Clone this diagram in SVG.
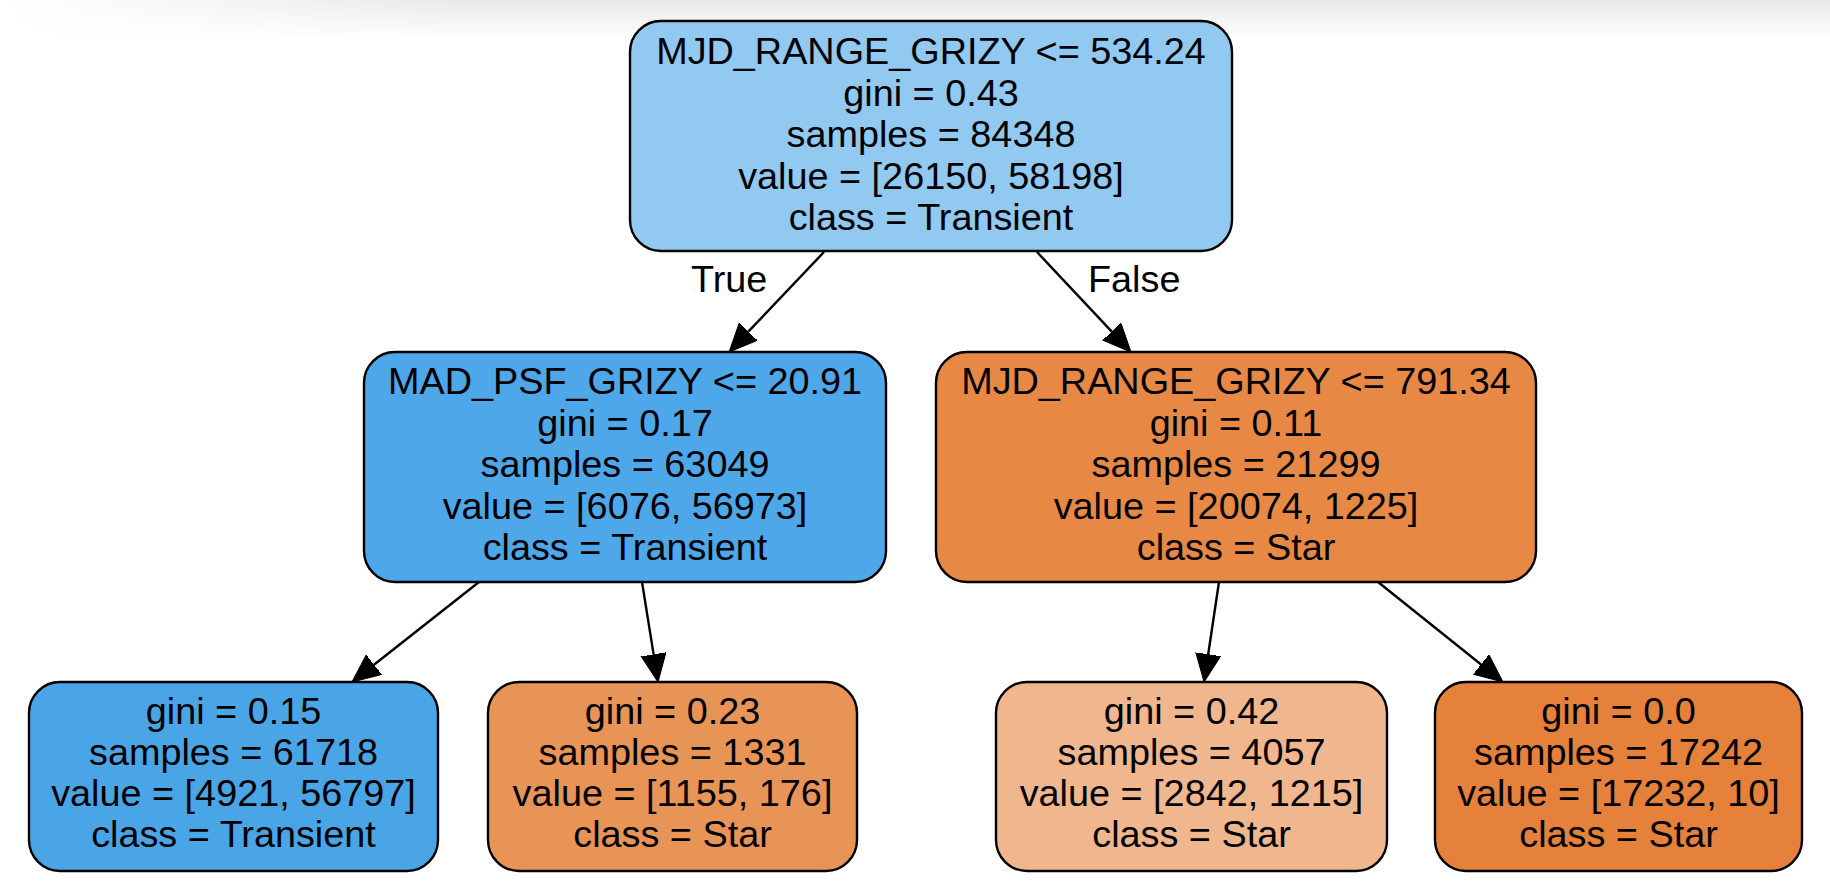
<svg xmlns="http://www.w3.org/2000/svg" width="1830" height="892" viewBox="0 0 1830 892">
  <defs>
    <style>
      .node rect { stroke: #000; stroke-width: 2.4; }
      .node text { font-family: "Liberation Sans", Arial, Helvetica, sans-serif; font-size: 37.8px; fill: #000; text-anchor: middle; }
      .edge line { stroke: #000; stroke-width: 2.4; fill: none; }
      .elabel { font-family: "Liberation Sans", Arial, Helvetica, sans-serif; font-size: 37.8px; fill: #000; }
    </style>
    <marker id="arrow" markerUnits="userSpaceOnUse" markerWidth="30" markerHeight="27" refX="0" refY="12.5" orient="auto" viewBox="0 0 30 27">
      <path d="M0,0 L28,12.5 L0,25 Z" fill="#000" stroke="#000" stroke-width="1"/>
    </marker>
    <linearGradient id="shadeV" x1="0" y1="0" x2="0" y2="1">
      <stop offset="0" stop-color="#e9e9e9"/>
      <stop offset="1" stop-color="#ffffff"/>
    </linearGradient>
    <linearGradient id="fadeH" x1="0" y1="0" x2="1" y2="0">
      <stop offset="0" stop-color="#000"/>
      <stop offset="0.25" stop-color="#fff"/>
      <stop offset="1" stop-color="#fff"/>
    </linearGradient>
    <mask id="shadeMask">
      <rect x="0" y="0" width="1830" height="40" fill="url(#fadeH)"/>
    </mask>
  </defs>

  <rect x="0" y="0" width="1830" height="892" fill="#ffffff"/>
  <rect x="0" y="0" width="1830" height="40" fill="url(#shadeV)" mask="url(#shadeMask)"/>

  <g id="edges" class="edge">
    <line x1="824" y1="252" x2="748.3" y2="331.7" marker-end="url(#arrow)"/>
    <line x1="1037" y1="252" x2="1111.8" y2="331.6" marker-end="url(#arrow)"/>
    <line x1="479" y1="582" x2="374.0" y2="664.7" marker-end="url(#arrow)"/>
    <line x1="642" y1="582" x2="653.6" y2="654.4" marker-end="url(#arrow)"/>
    <line x1="1219" y1="582" x2="1208.2" y2="654.3" marker-end="url(#arrow)"/>
    <line x1="1378" y1="582" x2="1481.1" y2="664.5" marker-end="url(#arrow)"/>
    <text class="elabel" x="691" y="292">True</text>
    <text class="elabel" x="1088" y="292">False</text>
  </g>

  <g id="node0" class="node">
    <rect x="630" y="21" width="602" height="230" rx="31" ry="31" fill="#92c9f1"/>
    <text x="931" y="64">MJD_RANGE_GRIZY &lt;= 534.24</text>
    <text x="931" y="105.5">gini = 0.43</text>
    <text x="931" y="147">samples = 84348</text>
    <text x="931" y="188.5">value = [26150, 58198]</text>
    <text x="931" y="230">class = Transient</text>
  </g>

  <g id="node1" class="node">
    <rect x="364" y="352" width="522" height="230" rx="31" ry="31" fill="#4ea7e8"/>
    <text x="625" y="394">MAD_PSF_GRIZY &lt;= 20.91</text>
    <text x="625" y="435.5">gini = 0.17</text>
    <text x="625" y="477">samples = 63049</text>
    <text x="625" y="518.5">value = [6076, 56973]</text>
    <text x="625" y="560">class = Transient</text>
  </g>

  <g id="node4" class="node">
    <rect x="936" y="352" width="600" height="230" rx="31" ry="31" fill="#e78945"/>
    <text x="1236" y="394">MJD_RANGE_GRIZY &lt;= 791.34</text>
    <text x="1236" y="435.5">gini = 0.11</text>
    <text x="1236" y="477">samples = 21299</text>
    <text x="1236" y="518.5">value = [20074, 1225]</text>
    <text x="1236" y="560">class = Star</text>
  </g>

  <g id="node2" class="node">
    <rect x="29" y="682" width="409" height="189" rx="31" ry="31" fill="#4aa5e7"/>
    <text x="233.5" y="724">gini = 0.15</text>
    <text x="233.5" y="765">samples = 61718</text>
    <text x="233.5" y="806">value = [4921, 56797]</text>
    <text x="233.5" y="847">class = Transient</text>
  </g>

  <g id="node3" class="node">
    <rect x="488" y="682" width="369" height="189" rx="31" ry="31" fill="#e99457"/>
    <text x="672.5" y="724">gini = 0.23</text>
    <text x="672.5" y="765">samples = 1331</text>
    <text x="672.5" y="806">value = [1155, 176]</text>
    <text x="672.5" y="847">class = Star</text>
  </g>

  <g id="node5" class="node">
    <rect x="996" y="682" width="391" height="189" rx="31" ry="31" fill="#f0b78e"/>
    <text x="1191.5" y="724">gini = 0.42</text>
    <text x="1191.5" y="765">samples = 4057</text>
    <text x="1191.5" y="806">value = [2842, 1215]</text>
    <text x="1191.5" y="847">class = Star</text>
  </g>

  <g id="node6" class="node">
    <rect x="1435" y="682" width="367" height="189" rx="31" ry="31" fill="#e5813a"/>
    <text x="1618.5" y="724">gini = 0.0</text>
    <text x="1618.5" y="765">samples = 17242</text>
    <text x="1618.5" y="806">value = [17232, 10]</text>
    <text x="1618.5" y="847">class = Star</text>
  </g>
</svg>
